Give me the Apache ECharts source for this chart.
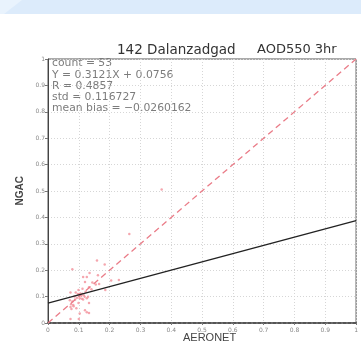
<!DOCTYPE html>
<html>
<head>
<meta charset="utf-8">
<script src="https://cdn.jsdelivr.net/npm/echarts@6/dist/echarts.min.js"></script>
<style>
  html, body { margin: 0; padding: 0; background: #fff; }
  #chart { width: 361px; height: 349px; }
</style>
</head>
<body>
<div id="chart"></div>
<script>
// AERONET (x) vs NGAC (y) AOD550 pairs
const aeronet = [0.264, 0.159, 0.184, 0.079, 0.135, 0.126, 0.114, 0.162, 0.205, 0.230,
  0.120, 0.144, 0.155, 0.166, 0.186, 0.133, 0.141, 0.112, 0.099, 0.073,
  0.090, 0.100, 0.108, 0.094, 0.119, 0.103, 0.130, 0.114, 0.126, 0.071,
  0.079, 0.088, 0.099, 0.075, 0.083, 0.133, 0.073, 0.076, 0.120, 0.126,
  0.133, 0.103, 0.073, 0.100, 0.092, 0.369, 0.105, 0.116, 0.086, 0.097,
  0.122, 0.110, 0.082]
const ngac = [0.337, 0.237, 0.222, 0.204, 0.189, 0.174, 0.174, 0.181, 0.161, 0.163,
  0.155, 0.153, 0.146, 0.148, 0.125, 0.135, 0.128, 0.130, 0.125, 0.116,
  0.116, 0.108, 0.103, 0.096, 0.099, 0.094, 0.099, 0.089, 0.094, 0.086,
  0.081, 0.089, 0.076, 0.071, 0.063, 0.076, 0.061, 0.053, 0.048, 0.041,
  0.038, 0.036, 0.015, 0.015, 0.056, 0.506, 0.112, 0.105, 0.100, 0.110,
  0.118, 0.092, 0.068]
const slope = 0.3121
const intercept = 0.0756
const statLines = ['count = 53', 'Y = 0.3121X + 0.0756', 'R = 0.4857', 'std = 0.116727', 'mean bias = \u22120.0260162']
const tickLabels = ['0', '0.1', '0.2', '0.3', '0.4', '0.5', '0.6', '0.7', '0.8', '0.9', '1']

const points = aeronet.map((x, i) => [x, ngac[i]])
const fitLine = [[0, intercept], [1, slope + intercept]]
const oneToOne = [[0, 0], [1, 1]]

const chart = echarts.init(document.getElementById('chart'))
const axisLabel = {
  color: '#888',
  fontSize: 6,
  fontFamily: 'DejaVu Sans',
  formatter: (v) => tickLabels[Math.round(v * 10)]
}
const splitLine = { show: true, lineStyle: { type: [1, 2], color: '#d6d6d6', width: 1 } }

const option = {
  animation: false,
  backgroundColor: '#fff',
  graphic: [
    {
      type: 'rect', left: 0, top: 0, z: -1,
      shape: { width: 361, height: 14 },
      style: { fill: '#dcebfb' }
    },
    {
      type: 'polygon', z: -1,
      shape: { points: [[0, 0], [22, 0], [4, 14], [0, 14]] },
      style: { fill: '#e9f3fd' }
    },
    {
      type: 'text', left: 117, top: 43,
      style: { text: '142 Dalanzadgad', font: '13.5px "DejaVu Sans"', fill: '#333' }
    },
    {
      type: 'text', left: 257, top: 43,
      style: { text: 'AOD550 3hr', font: '13px "DejaVu Sans"', fill: '#333' }
    },
    {
      type: 'text', left: 52, top: 58,
      style: {
        text: statLines.join('\n'),
        font: '10.8px "DejaVu Sans"', fill: '#7c7c7c', lineHeight: 11.2
      }
    },
    {
      type: 'text', left: 15, top: 176, rotation: Math.PI / 2,
      style: { text: 'NGAC', font: 'bold 10px "Liberation Sans"', fill: '#444' }
    },
    {
      type: 'text', left: 183, top: 332,
      style: { text: 'AERONET', font: '11px "Liberation Sans"', fill: '#444' }
    }
  ],
  grid: {
    left: 48, right: 2, top: 59, bottom: 26,
    show: true, borderColor: '#555', borderWidth: 1, backgroundColor: 'transparent'
  },
  xAxis: {
    type: 'value', min: 0, max: 1, interval: 0.1,
    axisLine: { show: true, onZero: false, lineStyle: { color: '#555', width: 2, type: [3, 2] } },
    axisTick: { show: true, length: 2, lineStyle: { color: '#777' } },
    axisLabel: { ...axisLabel, margin: 4 },
    splitLine
  },
  yAxis: {
    type: 'value', min: 0, max: 1, interval: 0.1,
    axisLine: { show: true, onZero: false, lineStyle: { color: '#444', width: 1 } },
    axisTick: { show: true, length: 3, lineStyle: { color: '#777' } },
    axisLabel: { ...axisLabel, margin: 3 },
    splitLine
  },
  series: [
    {
      type: 'line', data: oneToOne, symbol: 'none',
      lineStyle: { color: '#ea7c88', width: 1.3, type: [6, 4] }
    },
    {
      type: 'line', data: fitLine, symbol: 'none',
      lineStyle: { color: '#222', width: 1.3 }
    },
    {
      type: 'scatter', data: points, symbol: 'circle', symbolSize: 2.5,
      itemStyle: { color: '#f3909a' }
    }
  ]
}
chart.setOption(option)
window.addEventListener('resize', function () {
  chart.resize()
})
</script>
</body>
</html>
